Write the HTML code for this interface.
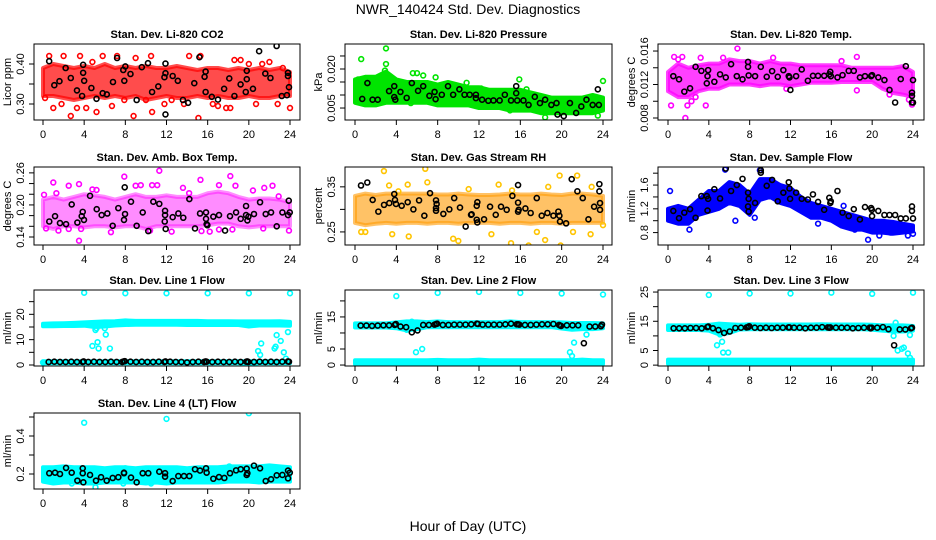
<!DOCTYPE html>
<html><head><meta charset="utf-8"><style>
html,body{margin:0;padding:0;background:#fff;}
svg{display:block;font-family:"Liberation Sans",Arial,sans-serif;}
</style></head><body>
<svg id="chart" width="936" height="540" viewBox="0 0 936 540" xmlns="http://www.w3.org/2000/svg">
<rect x="0" y="0" width="936" height="540" fill="#fff"/>
<text x="468" y="14" font-size="14" text-anchor="middle">NWR_140424 Std. Dev. Diagnostics</text>
<text x="468" y="531" font-size="14" text-anchor="middle">Hour of Day (UTC)</text>
</svg>
<script>
// ---------- DATA ----------
const bandHours=[0,1,2,3,4,5,6,7,8,9,10,11,12,13,14,15,16,17,18,19,20,21,22,23,24];
const xTicks=[0,4,8,12,16,20,24];

// CO2
const co2Lo=[0.32,0.32,0.315,0.31,0.315,0.32,0.315,0.32,0.315,0.32,0.31,0.315,0.32,0.315,0.315,0.32,0.315,0.32,0.315,0.315,0.32,0.315,0.315,0.32,0.32];
const co2Hi=[0.39,0.40,0.395,0.39,0.395,0.39,0.40,0.39,0.395,0.39,0.395,0.39,0.39,0.395,0.39,0.385,0.39,0.39,0.385,0.39,0.385,0.39,0.385,0.39,0.38];
const co2Ox=[0.2,0.6,1.0,1.8,2.0,2.7,3.3,3.6,4.2,4.8,5.2,5.8,6.7,7.2,7.9,8.8,9.0,10.0,10.5,10.6,11.8,12.5,13.7,14.2,15.1,15.3,16.5,17.0,17.8,18.2,18.6,19.2,20.0,20.7,21.3,22.0,22.8,23.3,24.0];
const co2Oy=[0.315,0.42,0.29,0.30,0.42,0.27,0.29,0.42,0.29,0.405,0.28,0.42,0.295,0.42,0.31,0.27,0.415,0.31,0.42,0.28,0.30,0.31,0.30,0.42,0.265,0.42,0.30,0.295,0.29,0.29,0.41,0.41,0.40,0.30,0.40,0.405,0.30,0.39,0.29];
const co2Bx=[0.6,1.1,1.6,2.2,2.7,3.3,3.8,3.9,3.9,4.0,4.7,5.2,5.8,6.2,6.8,7.2,7.8,7.9,8.0,8.5,9.1,9.6,10.2,10.6,11.2,11.8,11.9,11.9,11.9,12.6,13.1,13.6,14.1,14.7,15.2,15.7,15.8,15.8,16.4,17.0,17.6,18.1,18.6,19.2,19.7,19.8,19.8,20.4,21.0,21.6,22.1,22.7,23.2,23.7,23.8,23.8,23.9];
const co2By=[0.407,0.347,0.357,0.39,0.365,0.334,0.32,0.398,0.378,0.358,0.34,0.313,0.327,0.324,0.355,0.415,0.385,0.358,0.394,0.375,0.31,0.392,0.402,0.33,0.344,0.367,0.377,0.401,0.274,0.37,0.358,0.31,0.303,0.352,0.417,0.368,0.381,0.33,0.318,0.311,0.338,0.364,0.32,0.349,0.33,0.362,0.383,0.338,0.432,0.376,0.365,0.445,0.32,0.322,0.378,0.37,0.342];

// Pressure
const presLo=[0.007,0.006,0.006,0.007,0.007,0.007,0.007,0.007,0.006,0.006,0.006,0.006,0.005,0.005,0.005,0.004,0.004,0.004,0.003,0.003,0.003,0.003,0.003,0.003,0.004];
const presHi=[0.016,0.017,0.017,0.019,0.016,0.015,0.015,0.015,0.014,0.015,0.014,0.013,0.013,0.012,0.012,0.012,0.012,0.011,0.010,0.009,0.009,0.009,0.009,0.010,0.009];
const presOx=[0.6,3.0,3.0,2.9,0.3,1.3,5.6,6.0,6.6,7.8,10.8,15.9,16.6,18.4,23.5,24.0,15.0,12.2,5.4];
const presOy=[0.0238,0.0279,0.0219,0.0194,0.016,0.0162,0.0184,0.0184,0.0175,0.0168,0.0147,0.016,0.0122,0.0014,0.0021,0.0154,0.0041,0.0125,0.0069];
const presBx=[0.7,1.2,1.7,2.2,3.3,3.8,3.8,3.9,4.4,5.0,5.5,6.1,6.6,7.2,7.7,7.8,8.4,9.0,9.5,10.1,10.6,11.1,11.7,11.7,12.3,12.9,13.4,14.0,14.5,15.1,15.6,15.6,15.7,16.3,16.8,17.4,17.9,18.4,19.0,19.5,19.6,20.2,20.8,21.4,21.9,22.4,23.0,23.5,23.6];
const presBy=[0.0085,0.0146,0.0082,0.0082,0.0115,0.0134,0.0092,0.0082,0.0112,0.0089,0.0146,0.0116,0.0134,0.0097,0.0112,0.0084,0.0101,0.0134,0.0101,0.0122,0.0101,0.0101,0.0101,0.0088,0.0082,0.0078,0.0079,0.0079,0.0101,0.0079,0.0134,0.0107,0.0079,0.0079,0.0062,0.0093,0.0069,0.0082,0.0062,0.0069,0.0025,0.0019,0.0069,0.0031,0.0056,0.0082,0.0062,0.0122,0.0062];

// Li-820 Temp
const tempLo=[0.0112,0.0105,0.0105,0.0112,0.0115,0.0115,0.012,0.012,0.012,0.0118,0.012,0.012,0.0118,0.012,0.0122,0.0122,0.0122,0.0123,0.0123,0.0123,0.0123,0.0115,0.011,0.0108,0.0105];
const tempHi=[0.0135,0.0145,0.014,0.0143,0.0145,0.0145,0.015,0.0148,0.0148,0.0145,0.0148,0.0145,0.0145,0.0143,0.0143,0.0143,0.0143,0.0143,0.014,0.014,0.014,0.014,0.014,0.0142,0.0135];
const tempOx=[0.3,0.6,1.0,1.4,1.7,1.9,2.3,2.7,3.2,3.7,5.4,6.8,10.3,11.6,17.0,18.5,18.5,21.7,23.6,23.9];
const tempOy=[0.0095,0.0153,0.015,0.0153,0.008,0.0095,0.010,0.0105,0.0152,0.0095,0.0152,0.0163,0.0152,0.0115,0.0148,0.0153,0.0113,0.0108,0.0102,0.0096];
const tempBx=[0.52,1.08,1.6,2.16,2.7,3.27,3.8,3.87,3.93,4.54,5.1,5.66,6.18,6.74,7.3,7.84,7.84,7.9,8.53,9.09,9.67,10.2,10.75,11.3,11.83,11.9,11.99,12.55,13.1,13.7,14.2,14.7,15.3,15.8,15.9,15.95,16.6,17.1,17.7,18.2,18.8,19.3,19.9,19.99,20.6,21.2,21.7,22.25,22.8,23.3,24.0,23.9,23.9,23.9,24.0];
const tempBy=[0.0130,0.01262,0.01115,0.01155,0.01411,0.01363,0.01214,0.0130,0.01372,0.01233,0.01321,0.01285,0.01443,0.0130,0.01262,0.0147,0.01411,0.01309,0.0130,0.01411,0.01292,0.0136,0.01292,0.01372,0.0130,0.01285,0.01135,0.0130,0.0138,0.01245,0.01304,0.01304,0.01304,0.01321,0.01352,0.0130,0.01285,0.01312,0.01363,0.01363,0.01285,0.0130,0.0130,0.01312,0.01285,0.01253,0.01135,0.00985,0.01265,0.01419,0.01253,0.01103,0.01064,0.00985,0.00985];

// Amb box temp
const ambLo=[0.16,0.155,0.16,0.16,0.158,0.16,0.16,0.158,0.16,0.16,0.155,0.16,0.16,0.16,0.16,0.16,0.162,0.165,0.165,0.16,0.158,0.16,0.16,0.16,0.16];
const ambHi=[0.21,0.215,0.21,0.215,0.22,0.218,0.215,0.21,0.215,0.22,0.215,0.215,0.218,0.215,0.215,0.215,0.222,0.225,0.222,0.215,0.21,0.212,0.212,0.21,0.205];
const ambOx=[0.1,0.3,1.0,1.3,1.5,2.5,2.5,3.5,3.5,3.7,4.8,5.2,6.6,7.9,9.0,9.5,10.4,10.6,11.1,11.3,12.5,13.6,14.2,15.3,15.4,16.2,17.1,17.1,18.2,18.4,18.7,20.4,21.5,21.4,22.3,22.9,23.9];
const ambOy=[0.219,0.156,0.242,0.222,0.152,0.236,0.155,0.239,0.133,0.155,0.229,0.228,0.149,0.253,0.236,0.237,0.152,0.237,0.237,0.264,0.150,0.232,0.222,0.247,0.151,0.150,0.237,0.154,0.254,0.154,0.236,0.227,0.232,0.156,0.236,0.216,0.152];
const ambBx=[0.61,1.17,1.65,2.24,2.79,3.34,3.76,3.86,3.98,4.57,5.22,5.7,6.25,6.77,7.32,7.87,7.97,7.94,8.55,9.1,9.69,10.23,10.72,11.3,11.86,11.86,11.83,11.92,12.6,13.15,13.63,14.22,14.77,15.26,15.84,15.84,15.9,15.97,16.55,17.1,17.69,18.17,18.76,19.21,19.73,19.73,19.86,19.96,20.5,21.09,21.64,22.16,22.71,23.26,23.81,23.88,23.98];
const ambBy=[0.169,0.179,0.166,0.164,0.201,0.167,0.179,0.187,0.172,0.217,0.192,0.181,0.184,0.161,0.194,0.172,0.183,0.233,0.206,0.161,0.186,0.151,0.206,0.202,0.189,0.181,0.169,0.155,0.177,0.184,0.176,0.211,0.156,0.184,0.186,0.174,0.164,0.162,0.178,0.181,0.152,0.179,0.186,0.174,0.198,0.181,0.171,0.178,0.183,0.205,0.183,0.186,0.160,0.186,0.181,0.208,0.186];

// Gas stream RH
const rhLo=[0.27,0.265,0.268,0.27,0.268,0.27,0.27,0.268,0.27,0.27,0.268,0.27,0.27,0.27,0.268,0.27,0.27,0.268,0.27,0.27,0.268,0.27,0.27,0.27,0.27];
const rhHi=[0.33,0.335,0.332,0.335,0.335,0.335,0.335,0.335,0.333,0.333,0.335,0.333,0.332,0.332,0.333,0.335,0.333,0.333,0.335,0.333,0.332,0.335,0.335,0.333,0.33];
const rhOx=[0.6,1.0,2.8,3.3,3.6,4.2,5.1,5.2,6.8,7.0,9.5,10.0,11.0,13.2,13.9,15.1,15.2,16.8,17.6,18.4,18.7,19.8,19.9,21.1,21.5,22.8,22.9,24.0];
const rhOy=[0.25,0.25,0.385,0.353,0.245,0.34,0.355,0.24,0.39,0.36,0.235,0.23,0.345,0.245,0.355,0.225,0.342,0.22,0.25,0.232,0.35,0.375,0.22,0.25,0.375,0.245,0.35,0.265];
const rhBx=[0.58,1.19,1.71,2.26,2.81,3.32,3.8,3.87,3.97,4.52,5.1,5.65,6.2,6.71,7.26,7.84,7.84,7.84,7.9,8.55,9.13,9.6,10.16,10.71,11.23,11.29,11.78,11.78,11.84,11.84,12.49,13.07,13.62,14.13,14.68,15.23,15.78,15.78,15.78,15.84,16.49,17.0,17.59,18.07,18.62,19.2,19.68,19.78,19.84,20.43,20.97,21.52,22.04,22.59,23.14,23.65,23.65,23.71,23.71];
const rhBy=[0.353,0.3596,0.321,0.295,0.31,0.314,0.334,0.321,0.312,0.308,0.316,0.300,0.320,0.286,0.336,0.297,0.303,0.320,0.312,0.290,0.300,0.325,0.304,0.262,0.288,0.289,0.277,0.308,0.316,0.271,0.278,0.306,0.288,0.306,0.299,0.330,0.354,0.315,0.295,0.299,0.302,0.292,0.325,0.286,0.292,0.286,0.295,0.286,0.273,0.269,0.367,0.340,0.325,0.278,0.306,0.356,0.340,0.314,0.299];

// Sample flow
const sfLo=[1.0,0.95,0.95,1.1,1.15,1.2,1.3,1.25,1.1,1.35,1.4,1.3,1.25,1.15,1.05,1.05,1.0,0.9,0.85,0.85,0.8,0.8,0.78,0.8,0.82];
const sfHi=[1.2,1.25,1.2,1.35,1.5,1.5,1.65,1.6,1.45,1.7,1.7,1.6,1.55,1.4,1.3,1.25,1.2,1.15,1.1,1.05,1.0,1.0,0.98,0.95,0.92];
const sfOx=[0.2,2.1,6.6,5.6,9.0,14.7,17.2,18.3,19.6,20.7,21.8,23.5,24.0,8.5];
const sfOy=[1.5,0.85,1.0,1.86,1.85,0.95,1.25,0.85,0.68,0.75,0.8,0.75,0.78,1.05];
const sfBx=[0.52,1.08,1.6,2.16,2.7,3.27,3.8,3.87,3.93,4.54,5.1,5.66,6.18,6.74,7.3,7.84,7.84,7.9,7.9,8.53,9.09,9.09,9.67,10.2,10.75,11.3,11.83,11.9,11.96,12.55,13.1,13.7,14.2,14.7,15.3,15.8,15.9,15.95,16.6,17.1,17.7,18.2,18.8,19.3,19.9,19.97,19.99,20.6,21.2,21.7,22.25,22.8,23.3,23.9,23.9,24.0];
const sfBy=[1.165,1.043,1.136,1.194,1.049,1.414,1.414,1.171,1.368,1.53,1.374,1.878,1.50,1.6,1.704,1.472,1.24,1.368,1.153,1.299,1.809,1.849,1.588,1.687,1.327,1.472,1.647,1.543,1.368,1.472,1.368,1.357,1.443,1.316,1.183,1.386,1.299,1.327,1.50,1.136,1.078,1.194,1.021,1.229,1.212,1.183,1.078,1.165,1.096,1.096,1.096,1.038,1.038,1.165,1.24,1.038];

// Shared hours for black points on line-flow panels
const flowBx=[0.55,1.1,1.65,2.2,2.75,3.3,3.85,3.95,4.4,4.95,5.5,6.05,6.6,7.15,7.7,7.85,7.95,8.5,9.05,9.6,10.15,10.7,11.25,11.8,11.9,12.35,12.9,13.45,14.0,14.55,15.1,15.65,15.8,15.9,16.45,17.0,17.55,18.1,18.65,19.2,19.75,19.85,19.95,20.5,21.05,21.6,22.15,22.7,23.25,23.8,23.9];

// Line 1 flow
const l1HiBandLo=[15.3,15.3,15.4,15.4,15.5,15.0,15.2,15.6,15.8,15.9,15.9,15.9,15.9,15.9,15.8,15.8,15.8,15.8,15.8,15.8,15.2,15.6,15.6,15.6,15.5];
const l1HiBandHi=[16.3,16.4,16.5,16.6,16.8,17.0,17.2,17.3,17.6,17.4,17.4,17.4,17.4,17.4,17.4,17.4,17.3,17.3,17.3,17.2,17.2,17.2,17.2,17.3,17.0];
const l1LoBandLo=[0.7,0.7,0.7,0.7,0.7,0.7,0.7,0.7,0.7,0.7,0.7,0.7,0.7,0.7,0.7,0.7,0.7,0.7,0.7,0.7,0.4,0.7,0.7,0.7,0.7];
const l1LoBandHi=[1.5,1.5,1.5,1.5,1.5,1.5,1.5,1.5,1.5,1.5,1.5,1.5,1.5,1.5,1.5,1.5,1.5,1.5,1.5,1.5,1.5,1.5,1.5,1.5,1.5];
const l1Ox=[4,8,12,16,20,24,4.8,5.1,5.3,5.4,5.2,6.0,6.1,6.5,20.9,21.1,21.2,22.5,22.6,22.7,23.1,23.4,23.6,23.8,0.0,19.9];
const l1Oy=[28.5,28.3,28.3,28.3,28.3,28.3,7.5,13.8,9,6.5,14.5,14.5,12,6.5,5.5,4,8.5,6.5,7.2,11.8,9.5,5,2.5,13,1,0.3];
const l1By=[1.2,1.3,1.2,1.2,1.3,1.2,1.2,1.4,1.2,1.3,1.2,1.2,1.3,1.2,1.2,1.4,1.5,1.3,1.2,1.3,1.2,1.2,1.3,1.2,1.4,1.3,1.2,1.2,1.0,1.2,1.3,1.2,1.4,1.3,1.2,1.3,1.2,1.2,1.3,1.2,1.3,1.4,1.2,1.2,1.3,1.2,1.3,1.2,1.3,1.4,1.3];

// Line 2 flow
const l2HiBandLo=[11.7,11.7,11.7,11.7,11.5,10.8,11.2,11.8,11.8,11.8,11.8,11.8,11.8,11.8,11.8,11.8,11.8,11.8,11.8,11.8,11.4,11.0,11.2,11.2,11.5];
const l2HiBandHi=[13.0,13.0,13.0,13.0,13.3,13.6,13.6,13.4,13.6,13.4,13.4,13.4,13.4,13.4,13.4,13.6,13.4,13.4,13.4,13.4,13.3,13.1,13.1,13.1,13.0];
const l2LoBandLo=[0.3,0.3,0.3,0.3,0.3,0.3,0.3,0.3,0.3,0.3,0.3,0.3,0.3,0.3,0.3,0.3,0.3,0.3,0.3,0.3,0.1,0.3,0.3,0.3,0.3];
const l2LoBandHi=[1.5,1.5,1.5,1.5,1.5,1.5,1.5,1.5,1.6,1.5,1.5,1.5,1.7,1.5,1.5,1.5,1.5,1.5,1.5,1.5,1.5,1.5,1.7,1.5,1.5];
const l2Ox=[4,8,12,16,20,24,5.9,6.5,5.0,20.8,21.0,21.2,22.4,5.5];
const l2Oy=[21.5,22.5,22.8,22.5,22.3,22,4,5,11,4,2.8,7,9.5,13.5];
const l2By=[12.3,12.3,12.2,12.3,12.4,12.4,12.5,12.8,12.0,11.8,10.2,10.8,12.5,12.5,12.6,12.8,12.9,12.5,12.5,12.6,12.6,12.6,12.7,12.9,12.8,12.6,12.6,12.6,12.6,12.7,12.9,12.7,12.7,12.6,12.5,12.5,12.6,12.7,12.7,12.8,12.5,12.3,12.2,12.4,12.4,12.4,6.8,12.0,12.0,12.1,12.6];

// Line 3 flow
const l3HiBandLo=[12.0,12.0,12.0,12.0,11.8,10.5,11.0,12.2,12.3,12.3,12.3,12.3,12.3,12.3,12.3,12.3,12.3,12.3,12.3,12.3,12.1,11.8,11.5,11.5,11.8];
const l3HiBandHi=[13.6,13.6,13.6,13.6,13.8,14.2,14.0,13.8,14.0,13.9,13.9,13.9,13.9,13.9,13.9,14.0,13.9,13.9,13.9,13.9,13.8,13.6,13.6,13.6,13.4];
const l3LoBandLo=[0.5,0.5,0.5,0.5,0.5,0.5,0.4,0.5,0.5,0.5,0.5,0.5,0.5,0.5,0.5,0.5,0.5,0.5,0.5,0.5,0.2,0.5,0.5,0.5,0.5];
const l3LoBandHi=[1.9,1.9,1.9,1.9,1.9,1.9,1.9,1.9,1.9,1.9,1.9,1.9,1.9,1.9,1.9,1.9,1.9,1.9,1.9,1.9,1.9,1.9,1.9,1.9,1.9];
const l3Ox=[4,8,12,16,20,24,4.8,5.3,5.4,5.9,6.0,22.3,22.1,22.5,22.9,23.1,23.5,23.7,23.7,5.1];
const l3Oy=[24,24.5,24.5,24.8,24.4,24.8,6.8,8,4.3,4.3,0.3,14.5,10,5,5.6,6,4,2.5,10.3,10.5];
const l3By=[12.6,12.6,12.6,12.7,12.7,12.6,13.0,13.2,12.6,12.0,11.0,11.5,12.7,12.8,12.9,13.0,13.3,12.8,12.7,12.8,12.7,12.8,12.8,12.9,12.9,12.8,12.8,12.6,12.8,12.8,13.0,12.9,12.8,12.9,12.8,12.8,12.8,12.6,12.7,12.8,12.8,12.6,12.8,12.8,13.0,12.3,6.8,12.2,12.2,12.6,12.8];

// Line 4 flow
const l4Lo=[0.16,0.15,0.155,0.155,0.15,0.15,0.155,0.155,0.155,0.155,0.15,0.155,0.15,0.155,0.155,0.155,0.155,0.155,0.16,0.16,0.16,0.155,0.16,0.16,0.16];
const l4Hi=[0.235,0.235,0.24,0.235,0.235,0.235,0.23,0.235,0.235,0.23,0.235,0.235,0.235,0.235,0.23,0.235,0.235,0.235,0.24,0.24,0.24,0.24,0.245,0.24,0.235];
const l4Ox=[4,12,20,2.8,5.1,10.5,8.0,18.1,7.8];
const l4Oy=[0.47,0.49,0.52,0.15,0.13,0.15,0.23,0.24,0.15];
const l4Bx=[0.61,1.17,1.65,2.24,2.79,3.34,3.86,3.86,3.92,4.57,5.15,5.64,6.19,6.77,7.32,7.87,7.87,8.55,9.1,9.69,10.23,11.3,11.86,11.86,12.6,13.15,13.7,14.22,14.77,15.26,15.84,15.9,16.55,17.1,17.62,18.17,18.76,19.21,19.79,19.79,19.86,20.5,21.09,21.64,22.16,22.71,23.26,23.81,23.81,23.98];
const l4By=[0.204,0.207,0.2,0.232,0.207,0.165,0.23,0.204,0.156,0.195,0.165,0.183,0.165,0.179,0.183,0.204,0.207,0.181,0.156,0.204,0.204,0.212,0.204,0.186,0.163,0.189,0.189,0.189,0.225,0.218,0.23,0.207,0.175,0.184,0.179,0.204,0.219,0.225,0.228,0.195,0.204,0.244,0.23,0.163,0.172,0.193,0.195,0.177,0.218,0.207];

// ---------- DRAW ----------
const NS='http://www.w3.org/2000/svg';
const svg=document.getElementById('chart');
function mk(tag,attrs,parent){const e=document.createElementNS(NS,tag);for(const k in attrs)e.setAttribute(k,attrs[k]);(parent||svg).appendChild(e);return e;}

const cols=[{x0:34,x1:300,h0:43,h24:290},{x0:345,x1:612,h0:355,h24:603},{x0:658,x1:924,h0:668,h24:913}];
const rows=[{y0:44,y1:120},{y0:167,y1:245},{y0:290,y1:366},{y0:413,y1:489}];

const panels=[
 {key:'co2',title:'Stan. Dev. Li-820 CO2',ylab:'Licor ppm',c:0,r:0,ymin:0.26,ymax:0.45,ticks:[0.30,0.35,0.40],labels:['0.30','','0.40'],color:'#ff0000',op:0.7,
  bands:[[co2Lo,co2Hi]],ox:co2Ox,oy:co2Oy,bx:co2Bx,by:co2By},
 {key:'pressure',title:'Stan. Dev. Li-820 Pressure',ylab:'kPa',c:1,r:0,ymin:0.0004,ymax:0.0296,ticks:[0.005,0.010,0.015,0.020,0.025],labels:['0.005','','','0.020',''],color:'#00e400',op:1,
  bands:[[presLo,presHi]],ox:presOx,oy:presOy,bx:presBx,by:presBy},
 {key:'li820-temp',title:'Stan. Dev. Li-820 Temp.',ylab:'degrees C',c:2,r:0,ymin:0.00776,ymax:0.01684,ticks:[0.008,0.010,0.012,0.014,0.016],labels:['0.008','','0.012','','0.016'],color:'#ff00ff',op:0.75,
  bands:[[tempLo,tempHi]],ox:tempOx,oy:tempOy,bx:tempBx,by:tempBy},
 {key:'amb-box-temp',title:'Stan. Dev. Amb. Box Temp.',ylab:'degrees C',c:0,r:1,ymin:0.125,ymax:0.271,ticks:[0.14,0.16,0.18,0.20,0.22,0.24,0.26],labels:['0.14','','','0.20','','','0.26'],color:'#ff00ff',op:0.45,
  bands:[[ambLo,ambHi]],ox:ambOx,oy:ambOy,bx:ambBx,by:ambBy},
 {key:'gas-rh',title:'Stan. Dev. Gas Stream RH',ylab:'percent',c:1,r:1,ymin:0.221,ymax:0.394,ticks:[0.25,0.30,0.35],labels:['0.25','','0.35'],color:'#ff9a00',op:0.6,ocolor:'#ffc400',
  bands:[[rhLo,rhHi]],ox:rhOx,oy:rhOy,bx:rhBx,by:rhBy},
 {key:'sample-flow',title:'Stan. Dev. Sample Flow',ylab:'ml/min',c:2,r:1,ymin:0.591,ymax:1.904,ticks:[0.8,1.0,1.2,1.4,1.6,1.8],labels:['0.8','','1.2','','1.6',''],color:'#0000ff',op:1,
  bands:[[sfLo,sfHi]],ox:sfOx,oy:sfOy,bx:sfBx,by:sfBy},
 {key:'line1-flow',title:'Stan. Dev. Line 1 Flow',ylab:'ml/min',c:0,r:2,ymin:-0.4,ymax:29.6,ticks:[0,5,10,15,20,25],labels:['0','','10','','20',''],color:'#00ffff',op:1,
  bands:[[l1HiBandLo,l1HiBandHi],[l1LoBandLo,l1LoBandHi]],ox:l1Ox,oy:l1Oy,bx:flowBx,by:l1By},
 {key:'line2-flow',title:'Stan. Dev. Line 2 Flow',ylab:'ml/min',c:1,r:2,ymin:-0.3,ymax:23.4,ticks:[0,5,10,15,20],labels:['0','5','','15',''],color:'#00ffff',op:1,
  bands:[[l2HiBandLo,l2HiBandHi],[l2LoBandLo,l2LoBandHi]],ox:l2Ox,oy:l2Oy,bx:flowBx,by:l2By},
 {key:'line3-flow',title:'Stan. Dev. Line 3 Flow',ylab:'ml/min',c:2,r:2,ymin:-0.3,ymax:25.7,ticks:[0,5,10,15,20,25],labels:['0','5','','15','','25'],color:'#00ffff',op:1,
  bands:[[l3HiBandLo,l3HiBandHi],[l3LoBandLo,l3LoBandHi]],ox:l3Ox,oy:l3Oy,bx:flowBx,by:l3By},
 {key:'line4-flow',title:'Stan. Dev. Line 4 (LT) Flow',ylab:'ml/min',c:0,r:3,ymin:0.121,ymax:0.521,ticks:[0.2,0.3,0.4,0.5],labels:['0.2','','0.4',''],color:'#00ffff',op:1,
  bands:[[l4Lo,l4Hi]],ox:l4Ox,oy:l4Oy,bx:l4Bx,by:l4By}
];

panels.forEach(p=>{
  const C=cols[p.c],R=rows[p.r];
  const sx=h=>C.h0+(h/24)*(C.h24-C.h0);
  const sy=v=>R.y1-(v-p.ymin)/(p.ymax-p.ymin)*(R.y1-R.y0);
  const g=mk('g',{});
  
  
  const clipId='clip-'+p.key;
  const cp=mk('clipPath',{id:clipId},g);
  mk('rect',{x:C.x0,y:R.y0,width:C.x1-C.x0,height:R.y1-R.y0},cp);
  const plot=mk('g',{'clip-path':'url(#'+clipId+')'},g);
  p.bands.forEach((b,bi)=>{
    const lo=b[0],hi=b[1];let pts=[];
    bandHours.forEach((h,i)=>pts.push(sx(h).toFixed(1)+','+sy(hi[i]).toFixed(1)));
    for(let i=bandHours.length-1;i>=0;i--)pts.push(sx(bandHours[i]).toFixed(1)+','+sy(lo[i]).toFixed(1));
    const poly=mk('polygon',{points:pts.join(' '),fill:p.color,'fill-opacity':p.op,stroke:p.color,'stroke-width':4,'stroke-opacity':p.op,'stroke-linejoin':'round'},plot);
    
    
  });
  const n1=Math.min(p.ox.length,p.oy.length);
  for(let i=0;i<n1;i++){
    const c=mk('circle',{cx:sx(p.ox[i]),cy:sy(p.oy[i]),r:2.4,fill:'none',stroke:p.ocolor||p.color,'stroke-width':1.6},plot);
    
    
  }
  const n2=Math.min(p.bx.length,p.by.length);
  for(let i=0;i<n2;i++){
    const c=mk('circle',{cx:sx(p.bx[i]),cy:sy(p.by[i]),r:2.5,fill:'none',stroke:'#000','stroke-width':1.6},plot);
    
    
  }
  const box=mk('rect',{x:C.x0,y:R.y0,width:C.x1-C.x0,height:R.y1-R.y0,fill:'none',stroke:'#000','stroke-width':1},g);
  
  
  const t=mk('text',{x:(C.x0+C.x1)/2,y:R.y0-6,'font-size':11,'font-weight':'bold','text-anchor':'middle'},g);
  t.textContent=p.title;
  
  
  const xa=mk('g',{},g);
  
  
  mk('line',{x1:sx(xTicks[0]),x2:sx(xTicks[xTicks.length-1]),y1:R.y1,y2:R.y1,stroke:'#000'},xa);
  xTicks.forEach(v=>{
    mk('line',{x1:sx(v),x2:sx(v),y1:R.y1,y2:R.y1+5,stroke:'#000'},xa);
    const tl=mk('text',{x:sx(v),y:R.y1+18,'font-size':11,'text-anchor':'middle'},xa);
    tl.textContent=String(v);
  });
  const ya=mk('g',{},g);
  
  
  mk('line',{x1:C.x0,x2:C.x0,y1:sy(p.ticks[0]),y2:sy(p.ticks[p.ticks.length-1]),stroke:'#000'},ya);
  p.ticks.forEach((v,i)=>{
    const y=sy(v);
    mk('line',{x1:C.x0-5,x2:C.x0,y1:y,y2:y,stroke:'#000'},ya);
    if(p.labels[i]){
      const lx=C.x0-10;
      const tl=mk('text',{x:lx,y:y,'font-size':11,'text-anchor':'middle',transform:'rotate(-90 '+lx+' '+y+')'},ya);
      tl.textContent=p.labels[i];
    }
  });
  const yx=C.x0-23,ym=(R.y0+R.y1)/2;
  const yt=mk('text',{x:yx,y:ym,'font-size':11,'text-anchor':'middle',transform:'rotate(-90 '+yx+' '+ym+')'},g);
  yt.textContent=p.ylab;
  
  
});
</script>
</body></html>
